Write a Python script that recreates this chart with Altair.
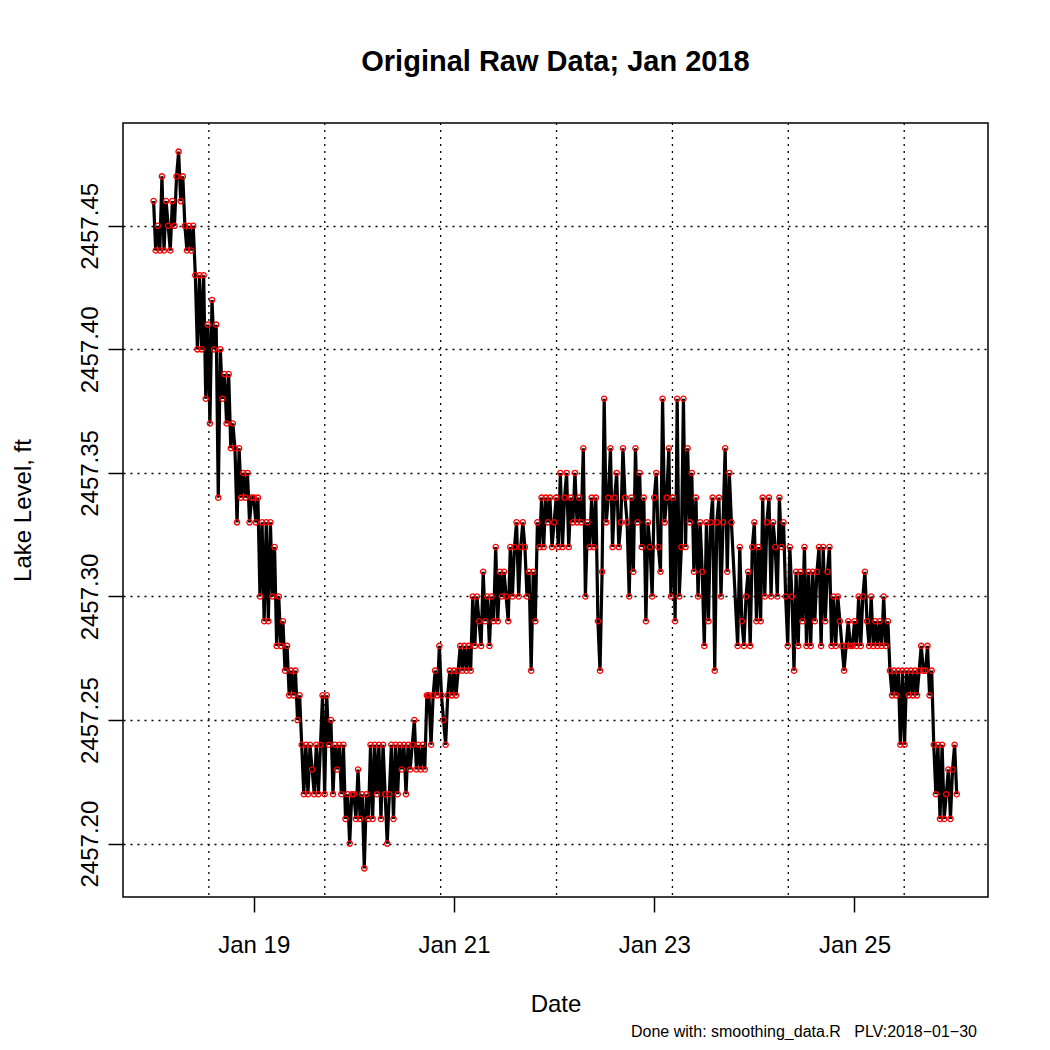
import altair as alt
import pandas as pd

# Lake level readings, in hundredths of a foot above 2457.00 ft, every 30 minutes
BASE_FT = 2457.0
jan18 = [46, 44, 45, 44, 47, 44, 46, 45, 44, 46, 45, 47, 48, 46, 47, 45, 44, 45, 44, 45,
         43, 40, 43, 40, 43, 38, 41, 37, 42, 40, 41, 34, 40, 38, 39, 37, 39, 36, 37, 36,
         33, 36, 34, 35, 34, 35, 33, 34]
jan19 = [34, 33, 34, 30, 33, 29, 33, 29, 33, 30, 32, 28, 30, 28, 29, 27, 28, 26, 27, 26,
         27, 25, 26, 24, 22, 24, 22, 24, 23, 22, 24, 22, 24, 26, 22, 26, 24, 25, 22, 24,
         23, 24, 22, 24, 21, 22, 20, 22]
jan20 = [22, 21, 23, 21, 22, 19, 22, 21, 24, 21, 24, 22, 24, 21, 24, 22, 20, 22, 24, 21,
         24, 22, 24, 23, 24, 22, 24, 23, 24, 25, 23, 24, 23, 24, 23, 26, 26, 24, 26, 27,
         26, 28, 26, 25, 24, 26, 27, 26]
jan21 = [27, 26, 27, 28, 27, 28, 27, 28, 27, 30, 28, 30, 29, 28, 31, 29, 30, 28, 30, 29,
         32, 29, 31, 30, 31, 30, 29, 32, 30, 32, 33, 30, 32, 33, 32, 30, 31, 27, 31, 29,
         33, 32, 34, 32, 34, 33, 34, 32]
jan22 = [33, 34, 32, 35, 32, 34, 35, 32, 34, 33, 35, 33, 34, 33, 36, 30, 33, 32, 34, 32,
         34, 29, 27, 31, 38, 33, 34, 36, 32, 34, 35, 32, 33, 36, 34, 33, 30, 34, 31, 36,
         33, 35, 32, 34, 29, 33, 32, 30]
jan23 = [34, 35, 32, 31, 38, 33, 34, 36, 30, 34, 29, 38, 30, 32, 38, 32, 36, 33, 35, 31,
         34, 30, 33, 31, 28, 33, 29, 33, 34, 27, 33, 34, 30, 33, 36, 31, 35, 33, None, None,
         28, 32, 29, 28, 30, 31, 28, 32]
jan24 = [33, 29, 32, 29, 34, 30, 33, 34, 30, 33, 32, 30, 34, 32, 33, 30, 28, 32, 30, 27,
         31, 28, 31, 29, 32, 28, 31, 28, 31, 29, 31, 32, 28, 32, 29, 31, 32, 28, 30, 28,
         30, 29, 28, 27, 28, 29, 28, 28]
jan25 = [29, 28, 30, 28, 30, 31, 29, 28, 30, 28, 29, 28, 29, 28, 30, 28, 29, 27, 26, 27,
         26, 27, 24, 27, 24, 27, 26, 27, 26, 27, 26, 27, 28, 27, 27, 28, 26, 27, 24, 22,
         24, 21, 24, 21, 22, 23, 21, 23]
jan26 = [24, 22]

days = [("2018-01-18", jan18), ("2018-01-19", jan19), ("2018-01-20", jan20),
        ("2018-01-21", jan21), ("2018-01-22", jan22), ("2018-01-23", jan23),
        ("2018-01-24", jan24), ("2018-01-25", jan25), ("2018-01-26", jan26)]

rows = []
for day, vals in days:
    start = pd.Timestamp(day)
    for i, v in enumerate(vals):
        if v is None:
            continue
        t = start + pd.Timedelta(minutes=30 * i)
        rows.append({"t": t.strftime("%Y-%m-%dT%H:%M:%S"),
                     "level": round(BASE_FT + v / 100.0, 2)})
df = pd.DataFrame(rows)

# dotted vertical grid positions (as in the original R grid())
grid_times = ["2018-01-18T13:15:00", "2018-01-19T17:01:40", "2018-01-20T20:48:20",
              "2018-01-22T00:35:00", "2018-01-23T04:21:40", "2018-01-24T08:08:20",
              "2018-01-25T11:55:00"]
grid_df = pd.DataFrame({"t": grid_times})

y_ticks = [2457.20, 2457.25, 2457.30, 2457.35, 2457.40, 2457.45]
x_tick_days = [19, 21, 23, 25]

TITLE = "Original Raw Data; Jan 2018"
NOTE = "Done with: smoothing_data.R\u00a0\u00a0\u00a0PLV:2018\u221201\u221230"

W, H = 865, 774
FONT = "Liberation Sans"

x_scale = alt.Scale(domain=[alt.DateTime(year=2018, month=1, date=17, hours=16, minutes=40),
                            alt.DateTime(year=2018, month=1, date=26, hours=8)])
y_scale = alt.Scale(domain=[2457.1784, 2457.4916], nice=False, zero=False)

x_axis = alt.Axis(values=[alt.DateTime(year=2018, month=1, date=d) for d in x_tick_days],
                  format="%b %d", title="Date", grid=False, domain=False,
                  tickSize=15, tickColor="black", tickWidth=1.5,
                  labelFontSize=24, labelColor="black", labelFont=FONT,
                  labelBaseline="top", labelPadding=21, labelAngle=0,
                  titleFontSize=24, titleFont=FONT, titleFontWeight="normal",
                  titleColor="black", titleBaseline="alphabetic",
                  titleX=W / 2, titleY=114)
y_axis = alt.Axis(values=y_ticks, format=".2f", title="Lake Level, ft",
                  grid=True, gridColor="black", gridDash=[2, 5], gridWidth=1.3,
                  gridOpacity=1, domain=False,
                  tickSize=15, tickColor="black", tickWidth=1.5,
                  labelFontSize=24, labelColor="black", labelFont=FONT,
                  labelAngle=270, labelAlign="center", labelBaseline="alphabetic",
                  labelPadding=11,
                  titleFontSize=24, titleFont=FONT, titleFontWeight="normal",
                  titleColor="black", titleAngle=270, titleAlign="center",
                  titleBaseline="alphabetic", titleX=-93, titleY=H / 2)

X = alt.X("t:T", scale=x_scale, axis=x_axis)
Y = alt.Y("level:Q", scale=y_scale, axis=y_axis)

vgrid = alt.Chart(grid_df).mark_rule(color="black", strokeDash=[2, 5],
                                     strokeWidth=1.3).encode(x=X)

line = alt.Chart(df).mark_line(color="black", strokeWidth=3.2).encode(x=X, y=Y)

pts = alt.Chart(df).mark_point(shape="circle", filled=False, color="#ff0000",
                               size=28, strokeWidth=1.3, opacity=1).encode(x=X, y=Y)

title = alt.Chart(pd.DataFrame({"title": [TITLE]})).mark_text(
    align="center", baseline="alphabetic", fontSize=29, fontWeight="bold",
    font=FONT, color="black").encode(
    text="title:N", x=alt.value(W / 2), y=alt.value(-52))

note = alt.Chart(pd.DataFrame({"note": [NOTE]})).mark_text(
    align="right", baseline="alphabetic", fontSize=16, font=FONT, color="black").encode(
    text="note:N", x=alt.value(854), y=alt.value(914))

chart = alt.layer(vgrid, line, pts, title, note).properties(
    width=W, height=H,
    autosize=alt.AutoSizeParams(type="none"),
    padding={"left": 115, "top": 115, "right": 50, "bottom": 143},
).configure_view(stroke="black", strokeWidth=1.5)

chart.save("out.html", embed_options={"renderer": "svg", "actions": False})
